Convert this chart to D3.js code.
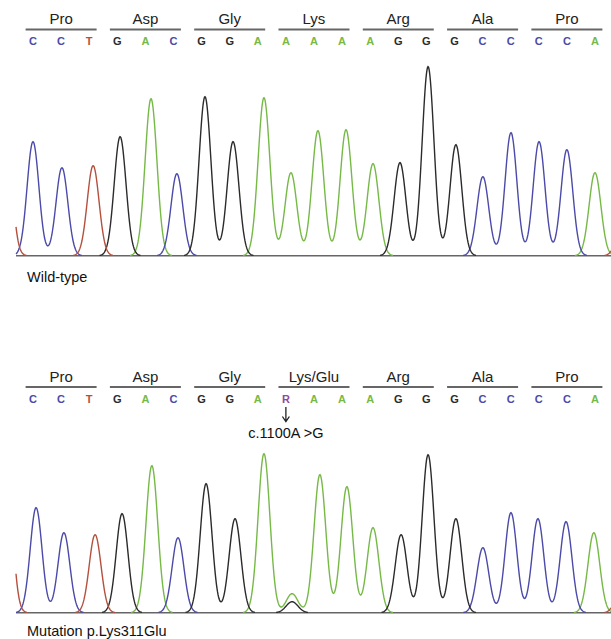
<!DOCTYPE html>
<html><head><meta charset="utf-8">
<script src="https://cdn.jsdelivr.net/npm/d3@7"></script>
<style>body{margin:0;background:#fff}svg{display:block}text{font-family:"Liberation Sans",Arial,sans-serif}</style>
</head><body><svg id="c" width="611" height="639"></svg>
<script>
// ---- data ----
const wtBases  = ["C","C","T","G","A","C","G","G","A","A","A","A","A","G","G","G","C","C","C","C","A"];
const mutBases = ["C","C","T","G","A","C","G","G","A","R","A","A","A","G","G","G","C","C","C","C","A"];
const wtCodons  = ["Pro","Asp","Gly","Lys","Arg","Ala","Pro"];
const mutCodons = ["Pro","Asp","Gly","Lys/Glu","Arg","Ala","Pro"];
// trace peaks: channel, position (base units), height (signal units)
const wtPeakBase   = ["T","C","C","T","G","A","C","G","G","A","A","A","A","A","G","G","G","C","C","C","C","A","T"];
const wtPeakPos    = [-0.96,0,1.03,2.14,3.10,4.20,5.12,6.12,7.12,8.22,9.18,10.14,11.14,12.10,13.06,14.06,15.05,16.01,17.01,18.01,19.0,20.0,21.0];
const wtPeakHeight = [120,114,88,90,119,157,82,159,114,158,83,125,126,92,93,189,111,79,123,114,106,83,40];
const mutPeakBase   = ["T","C","C","T","G","A","C","G","G","A","A","G","A","A","A","G","G","G","C","C","C","C","A","T"];
const mutPeakPos    = [-0.95,0.11,1.10,2.21,3.17,4.23,5.16,6.16,7.19,8.22,9.22,9.22,10.21,11.17,12.10,13.10,14.06,15.05,16.01,17.01,17.97,18.97,19.96,21.0];
const mutPeakHeight = [150,105,80,78,99,147,75,129,94,159,19,11,138,126,85,78,158,94,65,100,94,91,80,40];
const mutIndex = 9;
const mutLabel = "c.1100A >G";
const panelLabels = ["Wild-type","Mutation p.Lys311Glu"];

// ---- styles ----
const colors = {A:"#76b947", C:"#4b4aa8", G:"#2b2b2b", T:"#b4503e", R:"#8c4aa0"};
const peakSigma = 0.21;

const svg = d3.select("#c");
const x = d3.scaleLinear().domain([-0.605, 20.57]).range([16, 611]);

function panel(cfg){
  const g = svg.append("g");
  const y = d3.scaleLinear().domain([0,200]).range([cfg.baseline, cfg.baseline-200]);
  // codon labels + lines
  cfg.codons.forEach((c,j)=>{
    const cx = x(3*j+1);
    g.append("text").attr("x",cx).attr("y",cfg.codonY).attr("text-anchor","middle")
      .attr("font-size",15).attr("fill","#222").text(c);
    g.append("line").attr("x1",cx-35.5).attr("x2",cx+35.5)
      .attr("y1",cfg.codonY+5.5).attr("y2",cfg.codonY+5.5)
      .attr("stroke","#666").attr("stroke-width",2);
  });
  cfg.bases.forEach((b,i)=>{
    g.append("text").attr("x",x(i)).attr("y",cfg.codonY+21).attr("text-anchor","middle")
      .attr("font-size",11).attr("font-weight","bold").attr("fill",colors[b]).text(b);
  });
  // baseline
  g.append("line").attr("x1",x.range()[0]).attr("x2",x.range()[1])
    .attr("y1",cfg.baseline).attr("y2",cfg.baseline).attr("stroke","#666").attr("stroke-width",1.5);
  // traces
  const xs = d3.range(x.range()[0], x.range()[1]+0.01, 0.5);
  ["A","C","G","T"].forEach(ch=>{
    const pk = cfg.peakBase.map((b,i)=>({b, p:cfg.peakPos[i], h:cfg.peakHeight[i]})).filter(d=>d.b===ch);
    const pts = xs.map(px=>{
      const p = x.invert(px);
      let v = 0;
      pk.forEach(d=>{ v += d.h*Math.exp(-((p-d.p)**2)/(2*peakSigma*peakSigma)); });
      return {px, v};
    });
    const line = d3.line().defined(d=>d.v>0.25).x(d=>d.px).y(d=>y(d.v));
    g.append("path").attr("d",line(pts)).attr("fill","none")
      .attr("stroke",colors[ch]).attr("stroke-width",1.4);
  });
  g.append("text").attr("x",27).attr("y",cfg.labelY).attr("font-size",14.5).attr("fill","#111").text(cfg.label);
  return g;
}

panel({baseline:255.7, codonY:24, bases:wtBases, codons:wtCodons,
  peakBase:wtPeakBase, peakPos:wtPeakPos, peakHeight:wtPeakHeight, labelY:282, label:panelLabels[0]});
const g2 = panel({baseline:612.7, codonY:381.5, bases:mutBases, codons:mutCodons,
  peakBase:mutPeakBase, peakPos:mutPeakPos, peakHeight:mutPeakHeight, labelY:635.5, label:panelLabels[1]});

// mutation arrow + label
const ax = x(mutIndex);
g2.append("path").attr("d",`M${ax},407 L${ax},421 M${ax-3.5},416.5 L${ax},421.5 L${ax+3.5},416.5`)
  .attr("fill","none").attr("stroke","#222").attr("stroke-width",1.3);
g2.append("text").attr("x",ax).attr("y",438).attr("text-anchor","middle")
  .attr("font-size",14.5).attr("fill","#111").text(mutLabel);
</script></body></html>
